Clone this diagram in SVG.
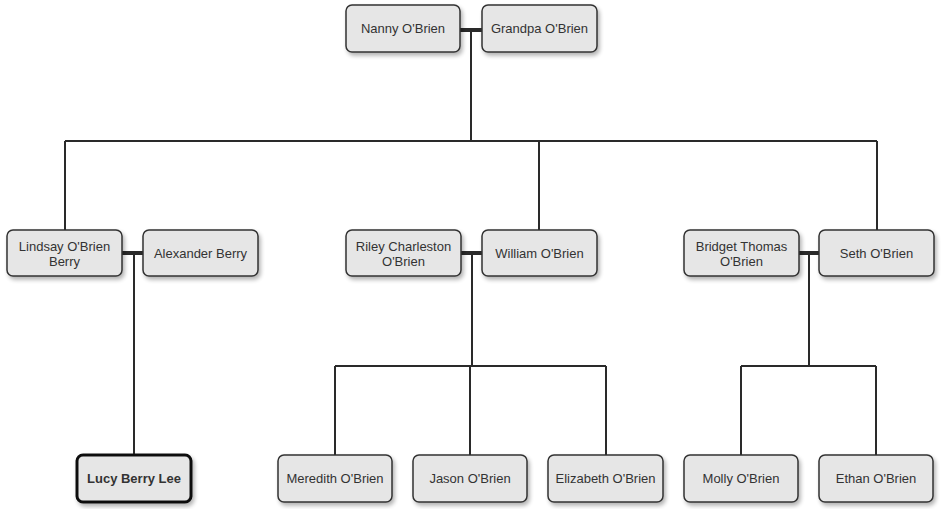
<svg xmlns="http://www.w3.org/2000/svg" width="941" height="509" viewBox="0 0 941 509">
<defs>
<filter id="sh" x="-20%" y="-20%" width="140%" height="160%">
<feGaussianBlur in="SourceAlpha" stdDeviation="2"/>
<feOffset dx="2" dy="3" result="b"/>
<feComponentTransfer><feFuncA type="linear" slope="0.3"/></feComponentTransfer>
<feMerge><feMergeNode/><feMergeNode in="SourceGraphic"/></feMerge>
</filter>
</defs>
<style>
.n rect{fill:#e6e6e6;stroke:#333;stroke-width:1.5;filter:url(#sh)}
.n.hl rect{stroke:#111;stroke-width:3}
.n text{font-family:"Liberation Sans",Arial,sans-serif;font-size:13px;fill:#333;text-anchor:middle}
.n.hl text{font-weight:bold}
.c path{fill:none;stroke:#2a2a2a;stroke-width:2}
.c .m{stroke-width:4}
</style>
<rect width="941" height="509" fill="#fff"/>
<g class="c">
<path class="m" d="M460 30H482M122 253H143M461 253H482M799 253H819"/>
<path d="M471 30V141M65 141H877M65 141V230M539 141V230M877 141V230"/>
<path d="M134 253V455"/>
<path d="M472 253V366M335 366H606M335 366V455M470 366V455M606 366V455"/>
<path d="M809 253V366M741 366H876M741 366V455M876 366V455"/>
</g>
<g id="nanny" class="n"><rect x="346" y="5" width="114" height="47" rx="6"/><text x="403" y="33">Nanny O'Brien</text></g>
<g id="grandpa" class="n"><rect x="482" y="5" width="115" height="47" rx="6"/><text x="539.5" y="33">Grandpa O'Brien</text></g>
<g id="lindsay" class="n"><rect x="7" y="230" width="115" height="46" rx="6"/><text x="64.5" y="251">Lindsay O'Brien</text><text x="64.5" y="266">Berry</text></g>
<g id="alexander" class="n"><rect x="143" y="230" width="115" height="46" rx="6"/><text x="200.5" y="258">Alexander Berry</text></g>
<g id="riley" class="n"><rect x="346" y="230" width="115" height="46" rx="6"/><text x="403.5" y="251">Riley Charleston</text><text x="403.5" y="266">O'Brien</text></g>
<g id="william" class="n"><rect x="482" y="230" width="115" height="46" rx="6"/><text x="539.5" y="258">William O'Brien</text></g>
<g id="bridget" class="n"><rect x="684" y="230" width="115" height="46" rx="6"/><text x="741.5" y="251">Bridget Thomas</text><text x="741.5" y="266">O'Brien</text></g>
<g id="seth" class="n"><rect x="819" y="230" width="115" height="46" rx="6"/><text x="876.5" y="258">Seth O'Brien</text></g>
<g id="lucy" class="n hl"><rect x="77" y="455" width="114" height="47" rx="6"/><text x="134" y="483">Lucy Berry Lee</text></g>
<g id="meredith" class="n"><rect x="278" y="455" width="114" height="47" rx="6"/><text x="335" y="483">Meredith O'Brien</text></g>
<g id="jason" class="n"><rect x="413" y="455" width="114" height="47" rx="6"/><text x="470" y="483">Jason O'Brien</text></g>
<g id="elizabeth" class="n"><rect x="548" y="455" width="115" height="47" rx="6"/><text x="605.5" y="483">Elizabeth O'Brien</text></g>
<g id="molly" class="n"><rect x="684" y="455" width="114" height="47" rx="6"/><text x="741" y="483">Molly O'Brien</text></g>
<g id="ethan" class="n"><rect x="819" y="455" width="114" height="47" rx="6"/><text x="876" y="483">Ethan O'Brien</text></g>
</svg>
